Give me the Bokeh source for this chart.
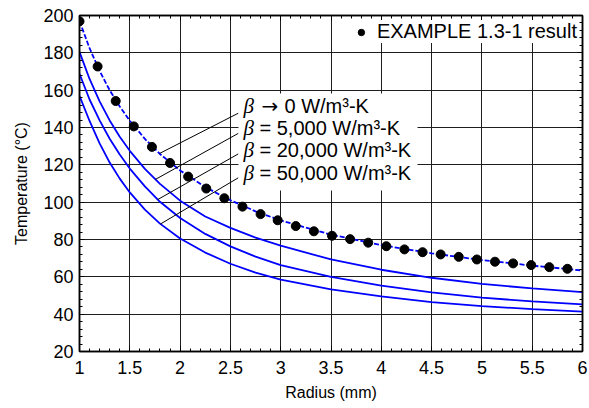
import numpy as np
from bokeh.plotting import figure
from bokeh.models import (LinearAxis, Range1d, SingleIntervalTicker, Legend, LegendItem,
                          Label, BoxAnnotation, NumeralTickFormatter, CustomJSTickFormatter)
from bokeh.embed import file_html
from bokeh.resources import INLINE

# ---------------- data ----------------
# EXAMPLE 1.3-1 result (dots)
example_r = [1.00, 1.18, 1.36, 1.54, 1.72, 1.90, 2.08, 2.26, 2.44, 2.62, 2.80, 2.97, 3.15, 3.33,
             3.51, 3.69, 3.87, 4.05, 4.23, 4.41, 4.59, 4.77, 4.95, 5.13, 5.31, 5.49, 5.67, 5.85]
example_T = [196.9, 172.7, 154.2, 140.6, 129.6, 121.0, 113.7, 107.3, 102.1, 97.6, 93.6, 90.3, 87.2, 84.4,
             82.0, 80.2, 78.3, 76.4, 74.7, 73.2, 72.0, 70.7, 69.3, 68.1, 67.2, 66.3, 65.2, 64.3]

# curves: radius (mm) and temperature (C)
curve_r = [1.0, 1.1, 1.2, 1.3, 1.4, 1.5, 1.65, 1.8, 2.0, 2.25, 2.5, 2.75, 3.0, 3.5, 4.0, 4.5, 5.0, 5.5, 6.0]
T_beta0 = [197.0, 182.5, 170.3, 160.0, 151.3, 143.6, 133.9, 125.8, 117.0, 108.1, 101.0, 95.1, 90.2,
           82.6, 77.0, 72.6, 69.0, 66.0, 63.4]
T_beta5000 = [180.5, 166.0, 154.0, 143.8, 135.0, 127.5, 117.8, 109.8, 100.8, 92.3, 86.2, 81.0, 76.7,
              69.3, 63.8, 59.5, 56.2, 53.8, 51.8]
T_beta20000 = [168.8, 155.0, 143.8, 134.0, 125.5, 118.0, 108.5, 100.2, 91.5, 83.0, 76.3, 70.8, 66.3,
               60.0, 55.3, 51.7, 48.9, 46.8, 45.2]
T_beta50000 = [157.0, 143.5, 131.5, 121.2, 112.6, 105.2, 96.0, 88.5, 80.5, 73.0, 67.0, 62.3, 58.5,
               53.3, 49.5, 46.5, 44.3, 42.7, 41.4]

curve_labels = ["0 W/m\u00b3-K", "= 5,000 W/m\u00b3-K", "= 20,000 W/m\u00b3-K", "= 50,000 W/m\u00b3-K"]
legend_label = "EXAMPLE 1.3-1 result"
x_title = "Radius (mm)"
y_title = "Temperature (\u00b0C)"

# ---------------- figure ----------------
FONT = "Liberation Sans"
BLUE = "#0000ff"

p = figure(frame_width=503, frame_height=336, output_backend="svg", toolbar_location=None,
           x_range=Range1d(1, 6), y_range=Range1d(20, 200),
           min_border_left=79, min_border_right=6, min_border_top=15, min_border_bottom=57,
           x_axis_label=x_title, y_axis_label=y_title)
p.background_fill_color = "white"
p.border_fill_color = "white"
p.outline_line_color = "black"
p.outline_line_width = 1.5

xt = SingleIntervalTicker(interval=0.5, num_minor_ticks=5)
yt = SingleIntervalTicker(interval=20, num_minor_ticks=5)

p.xaxis.ticker = xt
p.yaxis.ticker = yt
p.xaxis.formatter = NumeralTickFormatter(format="0.[0]")
p.xgrid.ticker = xt
p.ygrid.ticker = yt
for g in (p.xgrid, p.ygrid):
    g.grid_line_color = "#1e1e1e"
    g.grid_line_width = 1

for ax in (p.xaxis, p.yaxis):
    ax.axis_line_color = "black"
    ax.axis_line_width = 1.5
    ax.major_tick_in = 5
    ax.major_tick_out = 0
    ax.minor_tick_in = 3
    ax.minor_tick_out = 0
    ax.major_tick_line_color = "black"
    ax.minor_tick_line_color = "black"
    ax.major_label_text_font = FONT
    ax.major_label_text_font_size = "18px"
    ax.major_label_text_color = "black"
    ax.axis_label_text_font = FONT
    ax.axis_label_text_font_size = "16px"
    ax.axis_label_text_font_style = "normal"
    ax.axis_label_text_color = "black"

p.xaxis.major_label_standoff = 9
p.xaxis.axis_label_standoff = 7
p.yaxis.major_label_standoff = 6
p.yaxis.axis_label_standoff = 10

# top and right axes: ticks only, no labels
blank = CustomJSTickFormatter(code="return ''")
top_ax = LinearAxis(ticker=xt, formatter=blank, major_label_standoff=0,
                    major_tick_in=5, major_tick_out=0, minor_tick_in=3, minor_tick_out=0,
                    axis_line_width=1.5)
right_ax = LinearAxis(ticker=yt, formatter=blank, major_label_standoff=0,
                      major_tick_in=5, major_tick_out=0, minor_tick_in=3, minor_tick_out=0,
                      axis_line_width=1.5)
p.add_layout(top_ax, "above")
p.add_layout(right_ax, "right")

# curves
p.line(curve_r, T_beta0, line_color=BLUE, line_width=1.8, line_dash="5 2")
p.line(curve_r, T_beta5000, line_color=BLUE, line_width=1.8)
p.line(curve_r, T_beta20000, line_color=BLUE, line_width=1.8)
p.line(curve_r, T_beta50000, line_color=BLUE, line_width=1.8)

dots = p.scatter(example_r, example_T, marker="circle", size=9, fill_color="black", line_color="black")

# white box behind curve labels
p.add_layout(BoxAnnotation(left=2.58, right=4.36, bottom=106.3, top=158.2,
                           fill_color="white", fill_alpha=1.0, line_color=None))

# leader lines from labels to curves
curves = [T_beta0, T_beta5000, T_beta20000, T_beta50000]
lead_start_T = [147.7, 136.9, 125.9, 113.1]
lead_end_r = [1.795, 1.755, 1.778, 1.805]
lead_end_T = [float(np.interp(r, curve_r, c)) for r, c in zip(lead_end_r, curves)]
p.segment(x0=[2.58] * 4, y0=lead_start_T, x1=lead_end_r, y1=lead_end_T,
          line_color="black", line_width=1)

label_T = [151.5, 139.8, 127.8, 115.6]
for i, (t, txt) in enumerate(zip(label_T, curve_labels)):
    p.add_layout(Label(x=2.63, y=t, text="\u03b2", text_font="Liberation Serif",
                       text_font_style="italic", text_font_size="21px",
                       text_baseline="middle", text_align="left", text_color="black"))
    if i == 0:
        p.add_layout(Label(x=2.63, y=t, x_offset=18, text="\u2192", text_font="DejaVu Sans",
                           text_font_size="20px", text_baseline="middle", text_align="left",
                           text_color="black"))
        off = 41
    else:
        off = 16
    p.add_layout(Label(x=2.63, y=t, x_offset=off, text=txt, text_font=FONT,
                       text_font_size="20px", text_baseline="middle", text_align="left",
                       text_color="black"))

legend = Legend(items=[LegendItem(label=legend_label, renderers=[dots])],
                location="top_right", margin=5, padding=2, spacing=0,
                glyph_width=16, glyph_height=16, label_standoff=8,
                label_text_font=FONT, label_text_font_size="20px", label_text_color="black",
                border_line_color=None, background_fill_color="white", background_fill_alpha=1.0)
p.add_layout(legend)

open("out.html", "w").write(file_html(p, INLINE))
